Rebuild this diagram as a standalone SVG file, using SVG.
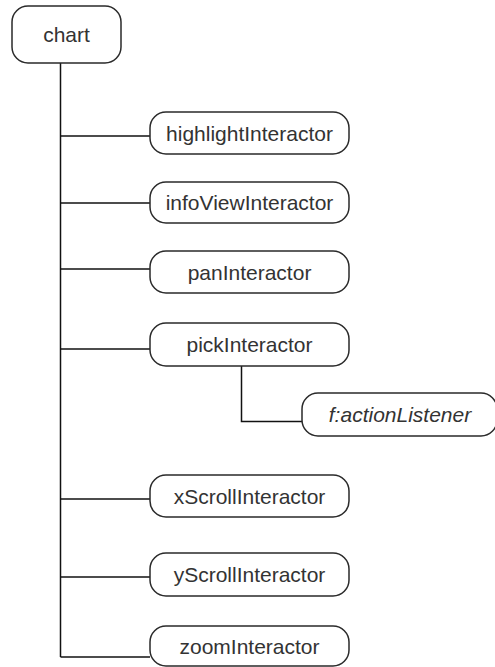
<svg xmlns="http://www.w3.org/2000/svg" width="495" height="667" viewBox="0 0 495 667">
  <style>
    .box { fill: #ffffff; stroke: #2a2a2a; stroke-width: 1.5; }
    .lbl { font-family: "Liberation Sans", Arial, sans-serif; font-size: 21px; fill: #333333; text-anchor: middle; }
    .it { font-style: italic; }
    .wire { fill: none; stroke: #111111; stroke-width: 1.5; }
  </style>
  <rect width="495" height="667" fill="#ffffff"/>

  <!-- tree connectors -->
  <g id="connectors">
    <path class="wire" d="M60.5 63 V657"/>
    <path class="wire" d="M60.5 136 H150"/>
    <path class="wire" d="M60.5 203 H150"/>
    <path class="wire" d="M60.5 269 H150"/>
    <path class="wire" d="M60.5 349 H150"/>
    <path class="wire" d="M60.5 499 H150"/>
    <path class="wire" d="M60.5 577 H150"/>
    <path class="wire" d="M60.5 657 H150"/>
    <path class="wire" d="M241.5 366 V421.5 H302"/>
  </g>

  <g id="chart">
    <rect class="box" x="12" y="6" width="109" height="57" rx="16" ry="16"/>
    <text class="lbl" x="66.5" y="42">chart</text>
  </g>

  <g id="highlightInteractor">
    <rect class="box" x="150" y="112" width="199" height="42" rx="16" ry="16"/>
    <text class="lbl" x="249.5" y="140.5">highlightInteractor</text>
  </g>

  <g id="infoViewInteractor">
    <rect class="box" x="150" y="182" width="199" height="41" rx="16" ry="16"/>
    <text class="lbl" x="249.5" y="210">infoViewInteractor</text>
  </g>

  <g id="panInteractor">
    <rect class="box" x="150" y="251" width="199" height="42" rx="16" ry="16"/>
    <text class="lbl" x="249.5" y="279.5">panInteractor</text>
  </g>

  <g id="pickInteractor">
    <rect class="box" x="150" y="323" width="199" height="43" rx="16" ry="16"/>
    <text class="lbl" x="249.5" y="352">pickInteractor</text>
  </g>

  <g id="actionListener">
    <rect class="box" x="302" y="393" width="195" height="43" rx="16" ry="16"/>
    <text class="lbl it" x="400" y="422">f:actionListener</text>
  </g>

  <g id="xScrollInteractor">
    <rect class="box" x="150" y="475" width="199" height="42" rx="16" ry="16"/>
    <text class="lbl" x="249.5" y="503.5">xScrollInteractor</text>
  </g>

  <g id="yScrollInteractor">
    <rect class="box" x="150" y="553" width="199" height="43" rx="16" ry="16"/>
    <text class="lbl" x="249.5" y="582">yScrollInteractor</text>
  </g>

  <g id="zoomInteractor">
    <rect class="box" x="150" y="626" width="199" height="40" rx="16" ry="16"/>
    <text class="lbl" x="249.5" y="653.5">zoomInteractor</text>
  </g>
</svg>
